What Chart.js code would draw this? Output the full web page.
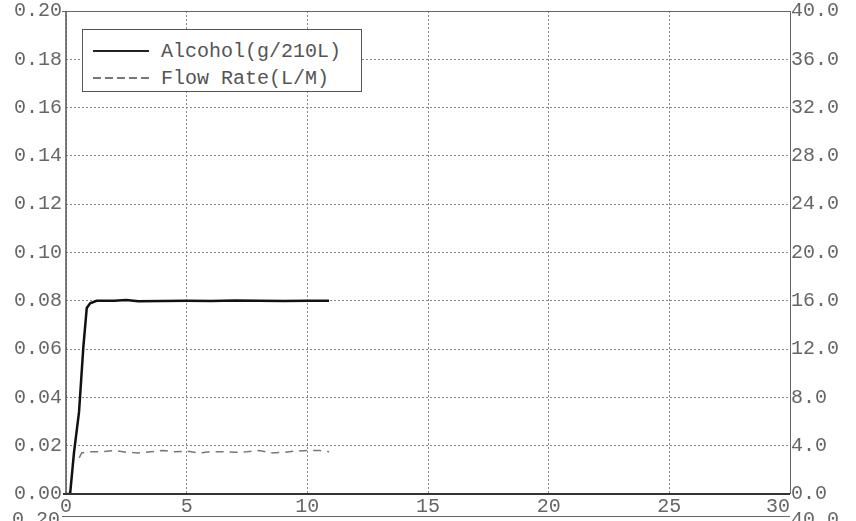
<!DOCTYPE html>
<html>
<head>
<meta charset="utf-8">
<script src="https://cdn.jsdelivr.net/npm/chart.js@4"></script>
<style>
  html, body { margin: 0; padding: 0; background: #fff; overflow: hidden; }
  #wrap { position: relative; width: 856px; height: 521px; }
  #legend {
    position: absolute; left: 82px; top: 29px; width: 278px; height: 61px;
    border: 1px solid #555; background: #fff; box-sizing: content-box;
    font-family: "Liberation Mono", "DejaVu Sans Mono", monospace; font-size: 20px; color: #555;
  }
  .row { position: absolute; left: 0; height: 24px; display: flex; align-items: center; }
  .sample { width: 56px; margin-left: 10px; margin-right: 12px; }
  .solid { height: 2px; background: #222; }
  .dashed { height: 1.5px; background: repeating-linear-gradient(to right, #777 0 8px, transparent 8px 12px); }
  .next { position: absolute; font-family: "Liberation Mono", monospace; font-size: 20px; color: #666; }
</style>
</head>
<body>
<div id="wrap">
  <canvas id="chart" width="856" height="521"></canvas>
  <div id="legend">
    <div class="row" style="top:9px"><span class="sample solid"></span><span>Alcohol(g/210L)</span></div>
    <div class="row" style="top:36px"><span class="sample dashed"></span><span>Flow Rate(L/M)</span></div>
  </div>
  <div class="next" style="left:12px; top:508px;">0.20</div>
  <div class="next" style="left:791px; top:508px;">40.0</div>
  <div style="position:absolute; left:62px; top:516px; width:728px; border-top:1px solid #666;"></div>
</div>
<script>
document.addEventListener('DOMContentLoaded', () => {
    // --- Data ---
    const alcoholTime = [0, 0.17, 0.33, 0.54, 0.72, 0.86, 1.0, 1.27, 2, 2.5, 3, 4, 5, 6, 7, 8, 9, 10, 10.9];
    const alcoholValues = [0, 0, 0.017, 0.034, 0.061, 0.077, 0.079, 0.080, 0.0800, 0.0803, 0.0798, 0.0799, 0.0800, 0.0799, 0.0801, 0.0800, 0.0799, 0.0800, 0.0800];
    const flowTime = [0.55, 0.65, 1, 1.5, 2, 2.5, 3, 3.5, 4, 4.5, 5, 5.5, 6, 6.5, 7, 7.5, 8, 8.5, 9, 9.5, 10, 10.5, 10.9];
    const flowValues = [3.0, 3.4, 3.5, 3.5, 3.6, 3.45, 3.4, 3.5, 3.6, 3.5, 3.55, 3.4, 3.5, 3.5, 3.45, 3.5, 3.6, 3.4, 3.45, 3.55, 3.6, 3.6, 3.5];
    const xTicks = [0, 5, 10, 15, 20, 25, 30];

    const tickFont = { family: '"Liberation Mono", monospace', size: 20, lineHeight: 0.7 };
    const tickColor = '#666';

    // frame + x tick labels drawn from the x scale
    const framePlugin = {
        id: 'frame',
        afterDraw(chart) {
            const { ctx, chartArea, scales } = chart;
            ctx.save();
            ctx.strokeStyle = '#666';
            ctx.lineWidth = 1;
            ctx.beginPath();
            ctx.moveTo(chartArea.left - 4, chartArea.top + 0.5);
            ctx.lineTo(chartArea.right + 0.5, chartArea.top + 0.5);
            ctx.lineTo(chartArea.right + 0.5, chartArea.bottom);
            ctx.stroke();
            ctx.strokeStyle = '#555';
            ctx.lineWidth = 1.5;
            ctx.beginPath();
            ctx.moveTo(chartArea.left, chartArea.top);
            ctx.lineTo(chartArea.left, chartArea.bottom);
            ctx.stroke();
            ctx.strokeStyle = '#333';
            ctx.lineWidth = 2;
            ctx.beginPath();
            ctx.moveTo(chartArea.left - 3, chartArea.bottom);
            ctx.lineTo(chartArea.right, chartArea.bottom);
            ctx.stroke();
            ctx.font = `${tickFont.size}px ${tickFont.family}`;
            ctx.fillStyle = tickColor;
            ctx.textBaseline = 'middle';
            xTicks.forEach((t, i) => {
                const px = scales.x.getPixelForValue(t);
                ctx.textAlign = i === xTicks.length - 1 ? 'right' : 'center';
                ctx.fillText(String(t), px, chartArea.bottom + 13);
            });
            ctx.restore();
        }
    };

    new Chart(document.getElementById('chart'), {
        type: 'line',
        data: {
            datasets: [{
                label: 'Alcohol(g/210L)',
                data: alcoholTime.map((t, i) => ({ x: t, y: alcoholValues[i] })),
                borderColor: '#111',
                borderWidth: 2.5,
                pointRadius: 0,
                tension: 0,
                yAxisID: 'y'
            }, {
                label: 'Flow Rate(L/M)',
                data: flowTime.map((t, i) => ({ x: t, y: flowValues[i] })),
                borderColor: '#777',
                borderWidth: 1.5,
                borderDash: [8, 6],
                pointRadius: 0,
                tension: 0,
                yAxisID: 'y2'
            }]
        },
        options: {
            responsive: false,
            animation: false,
            layout: { padding: { top: 11, bottom: 0, left: 0, right: 0 } },
            plugins: { legend: { display: false }, tooltip: { enabled: false } },
            scales: {
                x: {
                    type: 'linear', min: 0, max: 30,
                    afterBuildTicks: (s) => { s.ticks = xTicks.map(v => ({ value: v })); },
                    ticks: { display: false },
                    grid: { color: '#888', lineWidth: 1, tickLength: 0, drawTicks: false },
                    border: { display: false, dash: [2, 2] },
                    afterFit: (s) => { s.height = 27; }
                },
                y: {
                    position: 'left', min: 0, max: 0.2,
                    ticks: { stepSize: 0.02, font: tickFont, color: tickColor, padding: 4, callback: v => v.toFixed(2) },
                    grid: { color: '#888', lineWidth: 1, drawTicks: false },
                    border: { display: false, dash: [2, 2] },
                    afterFit: (s) => { s.width = 66; }
                },
                y2: {
                    position: 'right', min: 0, max: 40,
                    ticks: { stepSize: 4, font: tickFont, color: tickColor, padding: 1, callback: v => v.toFixed(1) },
                    grid: { display: false, drawTicks: false },
                    border: { display: false },
                    afterFit: (s) => { s.width = 66; }
                }
            }
        },
        plugins: [framePlugin]
    });
});
</script>
</body>
</html>
